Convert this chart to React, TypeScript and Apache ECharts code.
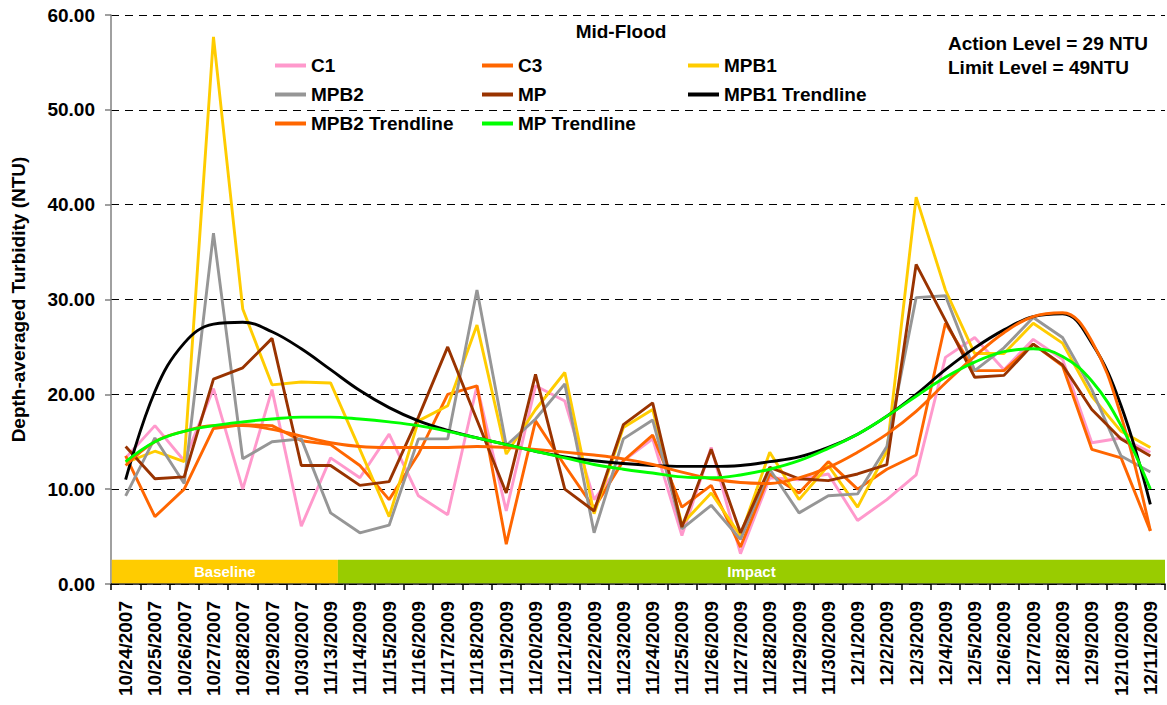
import React, { useEffect, useRef } from "react";
import * as echarts from "echarts";

const categories = [
  "10/24/2007", "10/25/2007", "10/26/2007", "10/27/2007", "10/28/2007", "10/29/2007", "10/30/2007", "11/13/2009",
  "11/14/2009", "11/15/2009", "11/16/2009", "11/17/2009", "11/18/2009", "11/19/2009", "11/20/2009", "11/21/2009",
  "11/22/2009", "11/23/2009", "11/24/2009", "11/25/2009", "11/26/2009", "11/27/2009", "11/28/2009", "11/29/2009",
  "11/30/2009", "12/1/2009", "12/2/2009", "12/3/2009", "12/4/2009", "12/5/2009", "12/6/2009", "12/7/2009",
  "12/8/2009", "12/9/2009", "12/10/2009", "12/11/2009",
];

const c1 = [13.3, 16.7, 13.0, 20.6, 10.0, 20.5, 6.1, 13.3, 11.2, 15.8, 9.3, 7.3, 20.9, 7.7, 20.9, 19.3, 8.9, 13.0, 15.3, 5.1, 14.4, 3.2, 11.2, 11.0, 11.6, 6.7, 8.9, 11.5, 23.9, 26.0, 22.6, 25.8, 23.7, 14.9, 15.4, 13.9];
const c3 = [13.5, 7.1, 10.0, 16.4, 16.8, 16.7, 15.1, 14.7, 12.5, 8.9, 13.7, 20.0, 20.9, 4.2, 17.2, 12.5, 8.0, 13.0, 15.7, 8.1, 10.4, 3.9, 11.6, 9.6, 12.9, 10.0, 12.1, 13.6, 27.5, 22.5, 22.5, 25.3, 23.0, 14.2, 13.3, 5.6];
const mpb1 = [12.8, 14.0, 12.9, 57.7, 29.0, 21.0, 21.3, 21.2, 14.2, 7.1, 17.2, 18.8, 27.3, 13.7, 18.4, 22.3, 7.4, 16.5, 18.4, 6.3, 9.6, 5.1, 13.9, 8.9, 12.5, 8.1, 14.0, 40.8, 31.0, 24.3, 24.3, 27.5, 25.4, 19.8, 16.1, 14.4];
const mpb2 = [9.3, 15.4, 10.6, 37.0, 13.2, 15.0, 15.3, 7.5, 5.4, 6.2, 15.3, 15.3, 31.0, 14.6, 17.4, 21.1, 5.4, 15.3, 17.3, 5.8, 8.3, 4.7, 12.1, 7.5, 9.3, 9.5, 14.5, 30.2, 30.4, 22.5, 24.9, 28.1, 26.0, 20.5, 13.5, 11.8];
const mp = [14.5, 11.1, 11.3, 21.6, 22.8, 25.9, 12.5, 12.5, 10.4, 10.8, 17.6, 25.0, 17.3, 9.6, 22.1, 10.0, 7.7, 16.8, 19.1, 6.0, 14.2, 5.4, 12.3, 11.1, 10.9, 11.6, 12.6, 33.7, 27.8, 21.8, 22.0, 25.3, 23.1, 18.4, 15.3, 13.5];
const mpb1Trend = [11.0, 20.3, 25.4, 27.4, 27.6, 26.6, 24.8, 22.6, 20.4, 18.6, 17.2, 16.2, 15.4, 14.7, 14.0, 13.4, 13.0, 12.7, 12.5, 12.4, 12.4, 12.5, 12.9, 13.4, 14.4, 15.8, 17.7, 20.0, 22.6, 24.9, 26.8, 28.2, 28.5, 25.4, 18.8, 8.4];
const mpb2Trend = [12.5, 15.0, 16.1, 16.7, 16.7, 16.3, 15.6, 14.9, 14.5, 14.4, 14.4, 14.4, 14.5, 14.4, 14.2, 13.9, 13.6, 13.2, 12.6, 11.8, 11.1, 10.7, 10.6, 11.2, 12.3, 13.9, 15.8, 18.2, 21.2, 24.0, 26.5, 28.2, 28.6, 25.6, 17.7, 5.6];
const mpTrend = [12.9, 15.0, 16.1, 16.7, 17.1, 17.4, 17.6, 17.6, 17.4, 17.1, 16.7, 16.1, 15.4, 14.7, 14.0, 13.3, 12.6, 12.1, 11.7, 11.3, 11.2, 11.5, 12.1, 13.0, 14.3, 15.8, 17.7, 19.8, 21.8, 23.4, 24.5, 24.8, 24.0, 21.4, 16.7, 10.0];

const yTicks = [0, 10, 20, 30, 40, 50, 60];
const baselineEndIndex = 7.25;

const FONT = "'Liberation Sans', Arial, Helvetica, sans-serif";

const seriesDefs = [
  { name: "C1", data: c1, color: "#FF99CC", smooth: false },
  { name: "C3", data: c3, color: "#FF6600", smooth: false },
  { name: "MPB1", data: mpb1, color: "#FFCC00", smooth: false },
  { name: "MPB2", data: mpb2, color: "#969696", smooth: false },
  { name: "MP", data: mp, color: "#993300", smooth: false },
  { name: "MPB1 Trendline", data: mpb1Trend, color: "#000000", smooth: true },
  { name: "MPB2 Trendline", data: mpb2Trend, color: "#FF6600", smooth: true },
  { name: "MP Trendline", data: mpTrend, color: "#00FF00", smooth: true },
];

const legendColumns = [
  { left: 275, items: ["C1", "MPB2", "MPB2 Trendline"] },
  { left: 482, items: ["C3", "MP", "MP Trendline"] },
  { left: 688, items: ["MPB1", "MPB1 Trendline"] },
];

export default function App() {
  const ref = useRef<HTMLDivElement>(null);

  useEffect(() => {
    if (!ref.current) return;
    const chart = echarts.init(ref.current, null, { renderer: "svg" });
    const option: any = {
      animation: false,
      backgroundColor: "#ffffff",
      textStyle: { fontFamily: FONT },
      grid: { left: 111, right: 2, top: 15, bottom: 121, containLabel: false, outerBoundsMode: "none" },
      legend: legendColumns.map((col) => ({
        data: col.items,
        orient: "vertical",
        left: col.left,
        top: 56,
        padding: 0,
        itemGap: 10,
        itemWidth: 31,
        itemHeight: 4,
        icon: "rect",
        textStyle: { fontFamily: FONT, fontSize: 19, fontWeight: "bold", color: "#000", lineHeight: 17 },
      })),
      xAxis: {
        type: "category",
        data: categories,
        boundaryGap: true,
        axisLine: { lineStyle: { color: "#000", width: 1.5 } },
        axisTick: { show: true, length: 6, lineStyle: { color: "#000", width: 1.5 }, interval: 0 },
        axisLabel: {
          interval: 0,
          rotate: 90,
          margin: 17,
          fontFamily: FONT,
          fontSize: 19,
          fontWeight: "bold",
          color: "#000",
        },
        splitLine: { show: false },
      },
      yAxis: {
        type: "value",
        min: yTicks[0],
        max: yTicks[yTicks.length - 1],
        interval: 10,
        axisLine: { show: true, lineStyle: { color: "#808080", width: 1.5 } },
        axisTick: { show: true, length: 6, lineStyle: { color: "#808080", width: 1.5 } },
        axisLabel: {
          margin: 16,
          fontFamily: FONT,
          fontSize: 19,
          fontWeight: "bold",
          color: "#000",
          formatter: (v: number) => v.toFixed(2),
        },
        splitLine: { show: true, lineStyle: { color: "#000", type: [8, 6], width: 1 } },
        name: "Depth-averaged Turbidity (NTU)",
        nameLocation: "middle",
        nameGap: 83,
        nameRotate: 90,
        nameTextStyle: { fontFamily: FONT, fontSize: 19, fontWeight: "bold", color: "#000" },
      },
      series: seriesDefs.map((s, i) => ({
        name: s.name,
        type: "line",
        data: s.data,
        smooth: s.smooth ? 0.4 : false,
        showSymbol: false,
        symbol: "none",
        z: 2 + i,
        color: s.color,
        lineStyle: { color: s.color, width: 2.9 },
        emphasis: { disabled: true },
      })),
    };
    chart.setOption(option);

    const xAt = (v: number) => {
      const lo = Math.floor(v);
      const hi = Math.min(lo + 1, categories.length - 1);
      const pLo = chart.convertToPixel({ xAxisIndex: 0 }, lo) as number;
      const pHi = chart.convertToPixel({ xAxisIndex: 0 }, hi) as number;
      return pLo + (pHi - pLo) * (v - lo);
    };
    const yZero = chart.convertToPixel({ yAxisIndex: 0 }, 0) as number;
    const yBandTop = chart.convertToPixel({ yAxisIndex: 0 }, 2.55) as number;
    const gridModel: any = (chart as any).getModel().getComponent("grid", 0);
    const rect = gridModel.coordinateSystem.getRect();
    const xLeft = rect.x + 0.75;
    const xRight = rect.x + rect.width;
    const xSplit = xAt(baselineEndIndex);
    const bandH = yZero - yBandTop;

    chart.setOption({
      graphic: [
        {
          type: "rect",
          z: 1,
          shape: { x: xLeft, y: yBandTop, width: xSplit - xLeft, height: bandH - 0.75 },
          style: { fill: "#FFCC00" },
        },
        {
          type: "rect",
          z: 1,
          shape: { x: xSplit, y: yBandTop, width: xRight - xSplit, height: bandH - 0.75 },
          style: { fill: "#99CC00" },
        },
        {
          type: "text",
          z: 3,
          x: (xLeft + xSplit) / 2,
          y: yBandTop + bandH / 2,
          style: {
            text: "Baseline",
            fill: "#ffffff",
            font: `bold 15px ${FONT}`,
            align: "center",
            verticalAlign: "middle",
          },
        },
        {
          type: "text",
          z: 3,
          x: (xSplit + xRight) / 2,
          y: yBandTop + bandH / 2,
          style: {
            text: "Impact",
            fill: "#ffffff",
            font: `bold 15px ${FONT}`,
            align: "center",
            verticalAlign: "middle",
          },
        },
        {
          type: "text",
          z: 10,
          x: 621,
          y: 31,
          style: {
            text: "Mid-Flood",
            fill: "#000",
            font: `bold 19px ${FONT}`,
            align: "center",
            verticalAlign: "middle",
          },
        },
        {
          type: "text",
          z: 10,
          x: 948,
          y: 43,
          style: {
            text: "Action Level = 29 NTU",
            fill: "#000",
            font: `bold 19px ${FONT}`,
            align: "left",
            verticalAlign: "middle",
          },
        },
        {
          type: "text",
          z: 10,
          x: 948,
          y: 67,
          style: {
            text: "Limit Level = 49NTU",
            fill: "#000",
            font: `bold 19px ${FONT}`,
            align: "left",
            verticalAlign: "middle",
          },
        },
      ],
    });

    return () => {
      chart.dispose();
    };
  }, []);

  return (
    <div
      ref={ref}
      style={{ position: "absolute", left: 0, top: 0, width: 1167, height: 705, background: "#fff" }}
    />
  );
}
